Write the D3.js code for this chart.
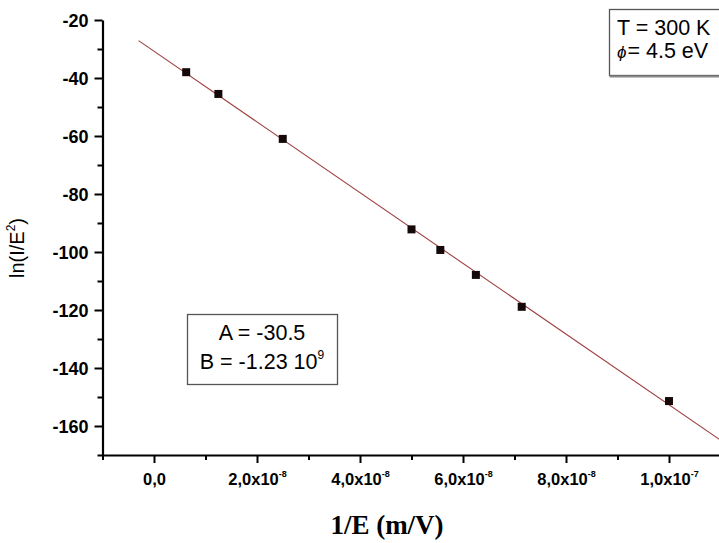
<!DOCTYPE html>
<html>
<head>
<meta charset="utf-8">
<script src="https://cdn.jsdelivr.net/npm/d3@7"></script>
<style>
  html, body { margin: 0; padding: 0; background: #fff; }
  svg { display: block; }
</style>
</head>
<body>
<div id="chart"></div>
<script>
// ---- data ----
const xValues = [6.25e-9, 1.25e-8, 2.5e-8, 5.0e-8, 5.56e-8, 6.25e-8, 7.14e-8, 1.0e-7];
const yValues = [-38.0, -45.5, -61.0, -92.2, -99.3, -107.9, -118.9, -151.4];
const fitX = [-3.0e-9, 1.1e-7];
const fitY = [-27.1, -164.9];
const xDomain = [-1.0e-8, 1.1e-7];
const yDomain = [-170, -20];
const xMajorTicks = [0, 2e-8, 4e-8, 6e-8, 8e-8, 1e-7];
const xTickBases = ["0,0", "2,0x10", "4,0x10", "6,0x10", "8,0x10", "1,0x10"];
const xTickExps = ["", "-8", "-8", "-8", "-8", "-7"];
const xMinorTicks = [-1e-8, 1e-8, 3e-8, 5e-8, 7e-8, 9e-8];
const yMajorTicks = [-160, -140, -120, -100, -80, -60, -40, -20];
const yMinorTicks = [-170, -150, -130, -110, -90, -70, -50, -30];
const fitLabels = ["A = -30.5", "B = -1.23 10"];
const fitExp = "9";
const condLabels = ["T = 300 K", "= 4.5 eV"];

const W = 719, H = 543;
const svg = d3.select("#chart").append("svg").attr("width", W).attr("height", H)
  .style("font-family", "Arial, 'Liberation Sans', sans-serif");
svg.append("rect").attr("width", W).attr("height", H).attr("fill", "#fff");

const x = d3.scaleLinear().domain(xDomain).range([102.5, 720.5]);
const y = d3.scaleLinear().domain(yDomain).range([455, 20]);

// fit line
svg.append("path")
  .datum(fitX.map((v, i) => [v, fitY[i]]))
  .attr("d", d3.line().x(d => x(d[0])).y(d => y(d[1])))
  .attr("fill", "none").attr("stroke", "#a04040").attr("stroke-width", 1.1);

// points
svg.append("g").selectAll("rect").data(xValues).join("rect")
  .attr("x", (d) => x(d) - 4).attr("y", (d, i) => y(yValues[i]) - 4)
  .attr("width", 8).attr("height", 8).attr("fill", "#140808");

// axes
const gx = svg.append("g").attr("transform", `translate(0,${y(yDomain[0])})`);
gx.call(d3.axisBottom(x).tickValues(xMajorTicks).tickSize(8).tickSizeOuter(0).tickFormat(""));
const gxm = svg.append("g").attr("transform", `translate(0,${y(yDomain[0])})`);
gxm.call(d3.axisBottom(x).tickValues(xMinorTicks).tickSize(5).tickSizeOuter(0).tickFormat(""));
gxm.select(".domain").remove();

const gy = svg.append("g").attr("transform", `translate(${x(xDomain[0])},0)`);
gy.call(d3.axisLeft(y).tickValues(yMajorTicks).tickSize(8).tickSizeOuter(0).tickFormat(d3.format("d")));
const gym = svg.append("g").attr("transform", `translate(${x(xDomain[0])},0)`);
gym.call(d3.axisLeft(y).tickValues(yMinorTicks).tickSize(5).tickSizeOuter(0).tickFormat(""));
gym.select(".domain").remove();

svg.selectAll(".domain").attr("stroke", "#000").attr("stroke-width", 2.2);
svg.selectAll(".tick line").attr("stroke", "#000").attr("stroke-width", 2);

gy.selectAll(".tick text")
  .attr("x", -14).attr("dy", "0.36em")
  .attr("font-size", 18).attr("font-weight", "bold").attr("fill", "#000")
  .style("font-family", "Arial, 'Liberation Sans', sans-serif")
  .text(d => d.toString().replace("-", "-"));

// x tick labels with superscripts
gx.selectAll(".tick text").remove();
gx.selectAll(".tick").each(function(d, i) {
  const t = d3.select(this).append("text")
    .attr("y", 30).attr("text-anchor", "middle")
    .attr("font-size", 16.5).attr("font-weight", "bold").attr("fill", "#000")
    .style("font-family", "Arial, 'Liberation Sans', sans-serif");
  t.append("tspan").text(xTickBases[i]);
  if (xTickExps[i]) {
    t.append("tspan").attr("font-size", 9).attr("dy", -8).text(xTickExps[i]);
  }
});

// axis titles
svg.append("text")
  .attr("transform", `translate(24,248) rotate(-90)`)
  .attr("text-anchor", "middle").attr("font-size", 20).attr("fill", "#000")
  .call(t => {
    t.append("tspan").text("ln(I/E");
    t.append("tspan").attr("font-size", 12).attr("dy", -9).text("2");
    t.append("tspan").attr("dy", 9).text(")");
  });

svg.append("text")
  .attr("x", 387).attr("y", 534).attr("text-anchor", "middle")
  .attr("font-size", 27).attr("font-weight", "bold")
  .style("font-family", "'Liberation Serif', 'Times New Roman', serif")
  .text("1/E (m/V)");

// fit parameter box
svg.append("rect").attr("x", 187.5).attr("y", 314.5).attr("width", 150).attr("height", 70)
  .attr("fill", "#fff").attr("stroke", "#555").attr("stroke-width", 1.3);
svg.append("text").attr("x", 262).attr("y", 340).attr("text-anchor", "middle")
  .attr("font-size", 21.5).text(fitLabels[0]);
const bt = svg.append("text").attr("x", 262).attr("y", 369).attr("text-anchor", "middle")
  .attr("font-size", 21.5);
bt.append("tspan").text(fitLabels[1]);
bt.append("tspan").attr("font-size", 12).attr("dy", -10).text(fitExp);

// conditions box
svg.append("rect").attr("x", 609.5).attr("y", 9.5).attr("width", 130).attr("height", 66)
  .attr("fill", "#fff").attr("stroke", "#555").attr("stroke-width", 1.3);
svg.append("line").attr("x1", 609.5).attr("x2", 740).attr("y1", 76.5).attr("y2", 76.5)
  .attr("stroke", "#888").attr("stroke-width", 2);
svg.append("text").attr("x", 617).attr("y", 35).attr("font-size", 21.5).text(condLabels[0]);
const ct = svg.append("text").attr("x", 617).attr("y", 58).attr("font-size", 21.5);
ct.append("tspan").attr("font-style", "italic").attr("font-size", 17).text("\u03D5");
ct.append("tspan").attr("dx", 1).text(condLabels[1]);
</script>
</body>
</html>
